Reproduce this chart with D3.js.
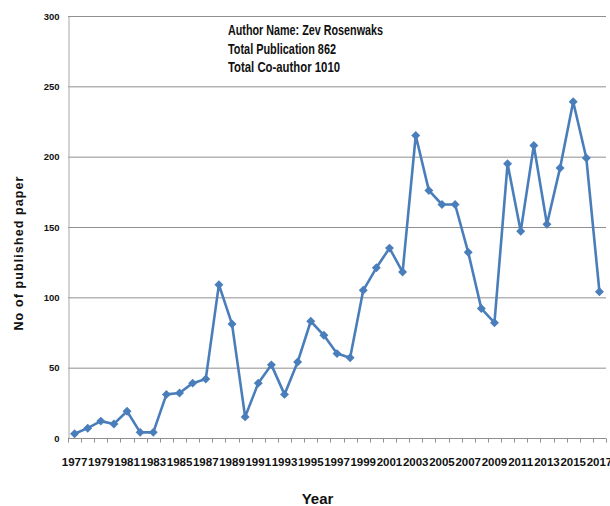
<!DOCTYPE html>
<html>
<head>
<meta charset="utf-8">
<script src="https://cdn.jsdelivr.net/npm/d3@7"></script>
<style>
  html, body { margin: 0; padding: 0; background: #fff; }
  svg { display: block; }
</style>
</head>
<body>
<svg id="chart" width="610" height="506"></svg>
<script>
// Publications per year
const years = d3.range(1977, 2018).map(String);
const papers = [
  3, 7, 12, 10, 19, 4, 4, 31, 32, 39,
  42, 109, 81, 15, 39, 52, 31, 54, 83, 73,
  60, 57, 105, 121, 135, 118, 215, 176, 166, 166,
  132, 92, 82, 195, 147, 208, 152, 192, 239, 199,
  104
];
const yTicks = [0, 50, 100, 150, 200, 250, 300];
const xLabelYears = years.filter((d, i) => i % 2 === 0);
const infoLines = [
  "Author Name: Zev Rosenwaks",
  "Total Publication 862",
  "Total Co-author 1010"
];
// condensed widths for the info block lines
const infoWidths = [155, 108, 112];

const svg = d3.select("#chart");
const plotLeft = 68, plotRight = 606, plotTop = 16, plotBottom = 438;

const x = d3.scaleBand().domain(years).range([plotLeft, plotRight]);
const y = d3.scaleLinear().domain([0, 300]).range([plotBottom, plotTop]);

// horizontal gridlines
svg.append("g")
  .selectAll("line")
  .data(yTicks.filter(d => d > 0))
  .join("line")
  .attr("x1", plotLeft).attr("x2", plotRight)
  .attr("y1", d => y(d) + 0.5).attr("y2", d => y(d) + 0.5)
  .attr("stroke", "#8f8f8f").attr("stroke-width", 1);

// y axis
const yAxis = svg.append("g")
  .attr("transform", `translate(${plotLeft + 0.5},0)`)
  .call(d3.axisLeft(y).tickValues(yTicks).tickSize(0).tickPadding(9));
yAxis.select(".domain").attr("stroke", "#a8a8a8");
yAxis.selectAll("text")
  .attr("font-family", "'Liberation Sans', Arial, sans-serif")
  .attr("font-weight", "bold")
  .attr("font-size", "9.5px")
  .attr("fill", "#111");

// x axis baseline with category-boundary ticks
const xAxis = svg.append("g").attr("transform", `translate(0,${plotBottom + 0.5})`);
xAxis.append("line")
  .attr("x1", plotLeft).attr("x2", plotRight)
  .attr("stroke", "#8f8f8f");
xAxis.selectAll("line.tick")
  .data(years.concat(["end"]))
  .join("line")
  .attr("class", "tick")
  .attr("x1", (d, i) => Math.round(plotLeft + i * x.step()) + 0.5)
  .attr("x2", (d, i) => Math.round(plotLeft + i * x.step()) + 0.5)
  .attr("y1", 0).attr("y2", 4)
  .attr("stroke", "#8f8f8f");
xAxis.selectAll("text")
  .data(xLabelYears)
  .join("text")
  .attr("x", d => x(d) + x.bandwidth() / 2)
  .attr("y", 27.5)
  .attr("text-anchor", "middle")
  .attr("font-family", "'Liberation Sans', Arial, sans-serif")
  .attr("font-weight", "bold")
  .attr("font-size", "11.5px")
  .attr("fill", "#111")
  .text(d => d);

// series line
const cx = d => x(d) + x.bandwidth() / 2;
const line = d3.line()
  .x((d, i) => cx(years[i]))
  .y(d => y(d));

svg.append("path")
  .datum(papers)
  .attr("d", line)
  .attr("fill", "none")
  .attr("stroke", "#4a7ebb")
  .attr("stroke-width", 2.6)
  .attr("stroke-linejoin", "round");

// diamond markers
svg.append("g")
  .selectAll("path")
  .data(papers)
  .join("path")
  .attr("d", d3.symbol().type(d3.symbolSquare).size(40))
  .attr("transform", (d, i) => `translate(${cx(years[i])},${y(d)}) rotate(45)`)
  .attr("fill", "#4a7ebb");

// axis titles
svg.append("text")
  .attr("transform", "translate(23,253) rotate(-90)")
  .attr("text-anchor", "middle")
  .attr("font-family", "'Liberation Sans', Arial, sans-serif")
  .attr("font-weight", "bold")
  .attr("font-size", "12.5px")
  .attr("letter-spacing", "1.1px")
  .attr("fill", "#111")
  .text("No of published  paper");

svg.append("text")
  .attr("x", 317.5).attr("y", 504)
  .attr("text-anchor", "middle")
  .attr("font-family", "'Liberation Sans', Arial, sans-serif")
  .attr("font-weight", "bold")
  .attr("font-size", "15px")
  .attr("fill", "#111")
  .text("Year");

// author info block
svg.append("g")
  .selectAll("text")
  .data(infoLines)
  .join("text")
  .attr("x", 228)
  .attr("y", (d, i) => 35 + i * 18.5)
  .attr("font-family", "'Liberation Sans', Arial, sans-serif")
  .attr("font-weight", "bold")
  .attr("font-size", "14px")
  .attr("textLength", (d, i) => infoWidths[i])
  .attr("lengthAdjust", "spacingAndGlyphs")
  .attr("fill", "#111")
  .text(d => d);
</script>
</body>
</html>
